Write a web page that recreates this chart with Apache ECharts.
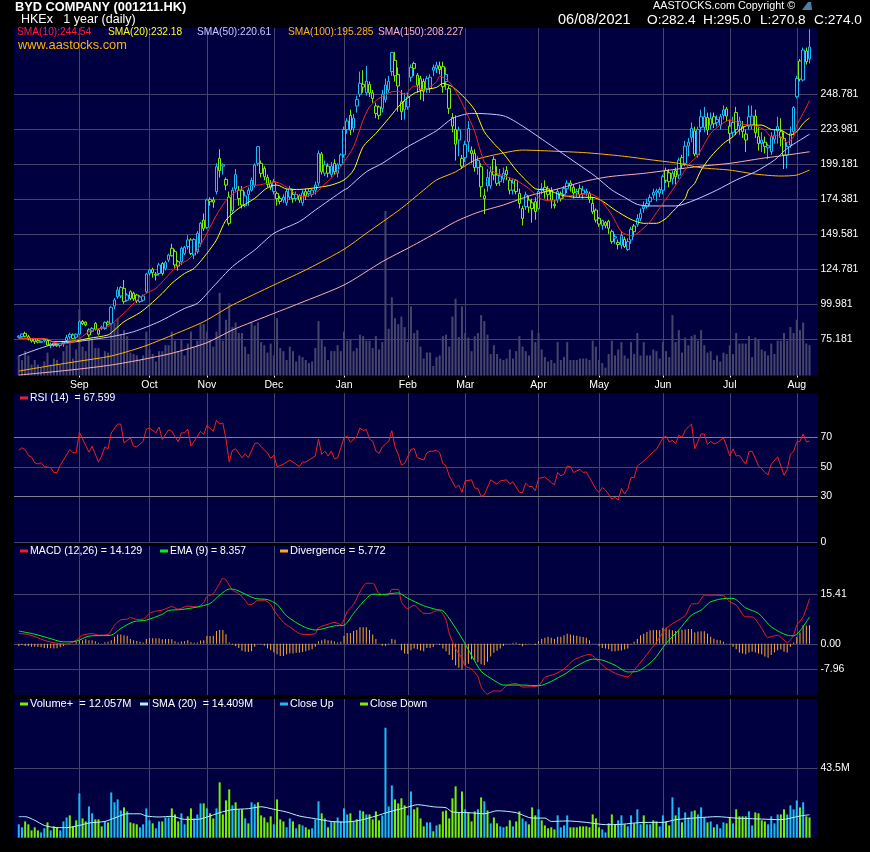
<!DOCTYPE html>
<html><head><meta charset="utf-8">
<style>html,body{margin:0;padding:0;background:#000}#c{width:870px;height:852px}</style>
<script src="https://cdn.jsdelivr.net/npm/echarts@6/dist/echarts.min.js"></script>
</head><body><div id="c"></div>
<script>
const monthLabels=['Sep','Oct','Nov','Dec','Jan','Feb','Mar','Apr','May','Jun','Jul','Aug'];
const monthStartDays=[19,41,59,80,102,122,140,163,182,202,223,244];
const priceTicks=[75.181,99.981,124.781,149.581,174.381,199.181,223.981,248.781];
const rsiTicks=[30,50,70];
const macdTicks=[-7.96,0,15.41];
const volumeTicks=[43.5];
// [open, close, low, high]
const candles=[
[76.7,77.6,76.2,78.2],[77.2,79,76.5,79.5],[79.5,77.5,76.8,80.8],[77.2,75.5,74.5,78.5],[75.5,74.1,73,76],[75.5,73.6,72,76],[74.5,73.3,72.5,75.5],[73.2,73.9,72.8,74.4],[74.2,74.8,73,75.3],[74.3,71.3,71,75],
[70.8,72,69,73],[72.6,71,70,72.8],[71.8,70.8,70,72.5],[71,72.2,69.5,72.5],[72.2,73.5,70,74],[74.5,76.6,73,78.5],[78.8,77,75.5,80],[78.4,76,75.5,79.5],[79,76.8,75.5,79.5],[79,87.8,78.5,88.8],
[88,86.4,85.5,89],[87.5,85.5,84.5,88],[78.4,82,77,83],[81,83,80,84],[86.6,82.4,81.5,87.5],[82,79,78,83],[84,83,82,85],[83,87.3,82,88],[87.5,86,85,88.5],[86.6,98,85.5,99],
[98.9,103.2,96.5,104.5],[105.5,110.2,104,112.5],[106,112,104.5,113],[111.4,102,100.5,117.3],[103,106.7,102,108],[109,104.3,103,110],[107.9,104,102.5,109],[106.7,102.7,101,107.5],[102,105.5,101,106.5],[103,106,102,107],
[109,121.6,108,122.5],[122,124.4,120.5,125.5],[124.9,122.5,119,126],[120.8,121.5,117,123],[122,128,120.5,129.5],[129,122,120.5,130],[125.6,129.6,124,131],[131.5,135,130,136],[139.8,134.5,134,143],[137.4,128,126,139],
[130.3,127.2,124,131.5],[130.3,139.8,128,141],[136.2,140.5,135,141.5],[145.7,141,139,149],[145.7,136.2,135,147],[135,146,132,147],[137.4,150.4,136,152],[143.3,157.5,141,158.5],[159.8,153.9,152,164.5],[154.6,174,153.5,175],
[174.5,172.8,170,176],[174,172.5,168.5,176],[180,197.6,178,200],[203.5,194.8,190,210],[199,198,192,200],[188.6,184.6,181,190],[176,157.5,156,180],[166.5,181,165,183],[192,182,180,196],[175,181,170,184],
[181,170.5,168,184],[170,177,169,180],[181,178,170,183],[181,188,180,190],[184.6,198.8,183,200],[211.8,200,198,212.3],[200,192.9,190,202],[196.4,190.5,188,198],[190,185,183,192],[186,183,181,188],
[180,187,178,189],[178.7,175,170,180],[175,173,171,177],[176,174,172,178],[172,180,170,182],[176,182,174,184],[178,175,172,182],[175,178,173,180],[177,174,172,178],[172,179,170,181],
[180,177,174,182],[180,178.5,176,182],[178,181,176,182],[181,184.7,178,187],[186,207,184,209],[206.6,194,192,208],[193,199,191,202],[198,193,190,200],[192,198,190,201],[200,194,192,203],
[193,199,190,200],[199,206,198,207],[206,224,204,226],[224,230,221,232],[234,223.6,220,238],[225,232,222,235],[245.3,240.6,236,248],[249,256.7,247,265],[256,254,250,266],[250,258.3,248,269],
[256,250,247,258],[250,246,243,252],[240.6,235.4,232,243],[240,234,231,241],[239,249,236,252],[245,255.5,243,260],[252,258,250,262],[265,278.6,262,279],[273,262,258,279],[263,254.8,236.6,268],
[243.6,236.6,230.7,252],[244,238,231,250],[240,247,238,250],[261,268,258,270],[270.8,267.3,262,272],[262.5,255.5,250,264],[260,252,245,262],[258,251,244,260],[253,260,250,262],[253,261,250,263],
[268,266,262,270],[267.3,269.6,264,272],[269,266.5,263,272],[268.5,254.3,250,272],[263,258,252,268],[253,239,235,255],[232.5,226.4,222,235.5],[224,213.6,202,234],[223.6,216.5,205,226],[203.5,198,196,206],
[204,213.4,201,216],[224.7,215.3,208,230],[209,207,200,212],[207,197,194,210],[197,202,192,205],[197.6,183.4,176,200],[175,177,164,182],[190,184,180,196],[184,194,182,198],[202.8,191.7,188,205],
[191.7,185.8,184,198],[187,191,184,196],[189,193,186,197],[195,192,188,198],[188,181,178,190],[181,186,178,189],[188,180,178,189],[178.7,171.6,168,182],[161,168,156,170],[169.3,177.6,167,180],
[174,169,165,177],[172,168,158,175],[172.8,165.8,160,176],[168,180,167,182],[182,181,178,186],[183,180,175,188],[182,178,174,184],[181,174,168,183],[171,170,168,174],[174,180,172,182],
[175,178.5,173,180],[178,182,175,184],[182,186,179,188],[186,184,180,188],[183,179,175,185],[180,179,176,182],[182,178,176,185],[181,178.5,175,184],[180,179,177,182],[178.7,174.5,172,180],
[171.6,165.7,164,176],[166.9,159.8,158,168],[161,157,155,162],[156,159.5,153,160],[156,158,154,159],[159,154,150,160],[151.6,144.5,143,153],[148,147,143,150],[142.5,144,139,146],[142.1,149,139.5,152],
[146.1,141,140,148],[139,144.5,138,147],[145.7,153.2,143,155],[155.6,151.6,148,157],[156.8,161,155,164],[161,164.6,159,168],[169.6,168,165,173],[169.3,171.6,168,175],[172.8,175.9,170,178],[179.5,177.5,175,182],
[180.5,179.5,173,182],[179,181.5,176,183],[181,190.5,178,192],[195,188,186,197],[193.3,187,183,196],[189,193,185,195],[194.8,190.5,185,197],[191.7,202.3,189,204],[204,198.8,196,206],[200,212.2,198,216],
[212.2,215,205,218],[218.4,224.8,215,229],[223,206.6,205,226],[206,224,204,226],[225.5,233,222,238],[225.5,233,222,240],[232.5,223.6,220,236],[227,231.8,224,236],[233,228,225,236],[229,231,226,234],
[227,233,224,235],[234,237.8,231,241],[238.5,233.5,230,240],[226.4,221.2,214,231],[222,229,219,233],[236,224,220,240],[230,226.5,220,233],[226,222.5,218,230],[220.7,216.5,208,224],[226.4,233,224,241],
[227,233.5,224,241],[233.5,221.7,218,238],[218.9,214.1,209,226],[216.5,214.1,208,222],[215,212,207,219],[211,212.5,203,214],[208.2,218.9,206,222],[217,220,214,224],[223,226,214,233],[222.4,218.4,212,232],
[217.7,205.9,196,222],[205.9,212,196.4,215],[213,221,211,226],[222.4,239.6,220,240.5],[247.2,260.2,246,262],[272.5,259.7,258,274],[259,280.3,258,282],[279.6,272,270,282],[282.4,274,270.8,295]];
const volumes=[8.4,6.5,10.2,8.4,4.6,6.5,4.6,3.3,5.9,9.6,4.6,7.1,6.5,4.6,10.2,12.7,14,7.1,10.9,27.8,12.1,10.2,19.6,15.3,11.5,11.5,7.1,10.2,9.6,28.4,22.2,24,17.1,19,16.5,9.6,9,8.4,6.5,8.4,18.4,10.9,9,5.9,10.2,10.2,12.7,12.7,18.4,14.6,10.2,15.3,8.4,13.4,18.4,12.1,14.6,21.5,21.5,18.4,15.3,12.1,18.4,34.7,14.6,23.4,30.3,20.3,22.2,17.8,17.8,12.1,9,22.2,20.9,22.2,14,12.7,9.6,13.4,8.4,24,11.5,10.2,6.5,12.1,10.2,5.9,8.4,7.7,6.5,5.2,5.9,11.5,22.8,15.3,12.1,6.5,10.2,10.2,12.7,10.2,18.4,14.6,15.3,10.2,11.5,17.1,16.5,14.6,14.6,11.5,16.5,10.9,14,69,19.6,32.8,24,21.5,24.7,20.3,14,29,17.8,19,12.1,7.1,9.6,9.6,4,
7.7,8.4,16.5,17.1,12.1,24.7,32.2,16.1,29,17.8,15.9,10.2,16.5,17.8,25.3,22.8,17.1,9,12.7,9,7.1,6.5,7.1,10.9,7.1,10.2,16.5,12.1,10.2,8.4,19,14,17.8,10.9,7.7,5.9,6.5,5.2,14,6.5,7.7,14,6.5,6.5,6.5,7.1,7.1,7.1,6.5,14.6,12.1,6.5,5.2,3.3,9,14.6,8.4,10.9,14,8.4,7.1,14,9,17.8,8.4,14,8.4,8.4,10.9,10.2,7.1,14,10.2,7.7,25.3,14,19,9.6,15.9,12.7,16.5,17.1,14.6,19,12.7,9.6,10.2,6.5,8.4,5.9,9.6,9,12.7,9,17.8,13.4,13.4,13.4,16.5,7.7,15.9,15.3,10.9,10.2,8.4,13.4,9,14.6,14.6,17.8,14.6,20.3,17.8,23.4,19,22.2,13.4,12.7];
const sma10=[[0,76],[9,75.5],[11,73.2],[14,72],[18,74.3],[22,80.7],[24,82.4],[28,84.3],[30,87.8],[34,96],[37,103],[40,107.9],[43,111.4],[46,118.5],[50,128],[53,131.5],[56,138.6],[59,150.4],[62,163.4],[64,170.5],[66,176.4],[69,181],[72,184],[75,184.6],[78,185.8],[81,186.5],[84,183],[87,178],[89,176.4],[90,176.4],[94,180.6],[95,183.4],[99,191.7],[102,201],[105,211.8],[108,230.7],[110,240],[113,246],[117,250.7],[119,251],[121,248.9],[124,254.8],[127,252],[131,257.8],[132,261.8],[135,257.8],[138,247.2],[141,233],[143,222.4],[146,201],[149,194],[153,190.5],[156,188],[160,182.2],[161,180],[164,174.5],[168,173.3],[171,176.4],[175,177.6],[179,178.3],[182,175.2],[186,163.4],[189,151.6],[192,148.7],[194,150.4],[198,158.7],[202,171.6],[205,181.1],[207,188],[210,198.8],[213,205.9],[217,221.2],[220,227.1],[223,230.7],[225,229.5],[227,227.8],[231,226.4],[234,223.6],[236,218.9],[238,220],[241,214.8],[243,218.9],[244,227.1],[246,235.4],[248,244.5]];
const sma20=[[0,76],[8,75.6],[11,73.6],[18,74.3],[22,76],[28,78.4],[30,81.9],[33,87.8],[38,94.2],[41,99.6],[45,107.9],[48,115],[52,122],[55,125.6],[59,136.2],[62,145.7],[65,159.8],[69,168.1],[74,175.2],[77,181.1],[79,183.9],[81,184.6],[84,181.8],[88,181.5],[94,183],[98,184.6],[102,188.2],[105,195.2],[108,211.8],[112,221.2],[116,231.8],[120,242.5],[124,249.6],[127,252],[131,253.8],[133,256.6],[136,254.3],[140,246],[143,237.8],[146,222.4],[149,214.1],[152,207],[156,195.2],[159,188.1],[162,182],[166,181],[170,177.6],[175,175.9],[180,175.9],[183,173.3],[187,166.9],[192,160.3],[196,157.5],[200,157.5],[203,161],[205,165.7],[209,175.2],[210,181.1],[212,185.8],[214,195.2],[217,204.7],[221,214.1],[224,218.9],[226,223.6],[229,227.1],[233,227.1],[236,224],[239,223.6],[242,220],[244,222.4],[246,228.3],[248,232.2]];
const sma50=[[0,63.5],[10,71.3],[18,73.6],[29,77.2],[36,80.7],[44,87.8],[52,97.2],[56,100.8],[61,112.6],[67,126.8],[74,138.6],[80,150.4],[88,158.7],[93,166.9],[102,181.1],[103,182.2],[109,194],[114,200],[122,211.8],[131,223.1],[136,231.8],[142,235.4],[152,233.7],[158,226.4],[166,214.1],[175,200],[181,190.5],[186,181.1],[190,175.9],[194,170.9],[198,169.8],[206,169.8],[212,174],[219,181.1],[225,188.2],[231,194],[237,202.3],[241,210.6],[248,220.6]];
const sma100=[[0,52.8],[8,55.9],[18,59.5],[29,63.5],[39,70.1],[47,77.2],[58,87.8],[67,99.6],[80,113.8],[91,125.6],[102,139.1],[109,150.4],[120,168.1],[127,181.1],[131,188.2],[137,194],[143,202.3],[149,205.9],[158,209.4],[167,208.7],[178,207.5],[189,205.2],[199,202.3],[207,200],[214,196.9],[223,195.2],[231,192.4],[239,191],[244,191.7],[248,195.3]];
const sma150=[[0,50],[8,51.7],[18,54],[29,57.1],[39,61.1],[48,65.4],[59,72.9],[67,81.9],[80,93.7],[88,100.8],[102,113.8],[114,130.3],[123,141],[131,150.9],[137,158.7],[144,165.3],[152,170.5],[161,177.6],[169,181.8],[177,187],[185,190.5],[196,192.9],[204,195.2],[214,198],[223,200],[233,203.5],[241,205.9],[248,208.2]];
const rsi=[[0,61.4],[1,63],[2,61.8],[3,57.8],[4,56.7],[5,52.9],[6,52],[7,52.9],[8,50.2],[10,49.5],[11,46.2],[12,46.2],[13,51.1],[16,61.8],[17,59.6],[18,59.6],[19,73.5],[20,69],[22,60],[23,64.1],[25,53.3],[26,57.4],[27,63.6],[28,62.3],[29,73.1],[31,79.1],[32,79.1],[33,66.3],[35,69.7],[36,64.1],[37,63.6],[39,67.4],[40,75.7],[41,76.4],[43,73.1],[44,77.1],[45,68.6],[47,75.3],[48,74.2],[50,67],[51,73.1],[52,73.1],[53,75.7],[54,64.1],[55,67.4],[57,74.2],[58,71.9],[59,78.2],[61,74.2],[62,81.6],[63,79.1],[64,79.8],[65,68.6],[66,53.3],[67,61.4],[68,62.3],[70,56.2],[71,58.9],[72,56.2],[74,65.9],[75,66.3],[77,61.4],[78,59.6],[79,55.8],[80,58],[81,50.2],[83,51.8],[85,54.7],[86,53.3],[88,50.2],[89,53.3],[90,53.3],[93,57.4],[94,69],[95,58.5],[96,60.7],[97,57.4],[98,60.7],[99,55.6],[100,56.2],[102,69.7],[103,70.8],[104,66.8],[106,70.8],[107,76.4],[108,74.8],[109,75.3],[110,69],[111,67.4],[112,60.7],[113,59.2],[114,63.6],[116,67.4],[117,74.6],[118,63.6],[119,58.5],[120,51.3],[121,52.4],[123,61.8],[124,62.5],[125,56.2],[127,54.7],[128,59.6],[129,60.7],[130,60.7],[131,61.4],[132,59.6],[133,52.4],[134,50.6],[135,43.9],[137,36],[138,37.6],[139,32.7],[140,40.5],[142,41.2],[143,35.6],[144,35.4],[145,30],[146,30.9],[148,41.2],[150,38.3],[151,40.5],[153,41.2],[154,38.3],[155,39.9],[157,32.7],[158,32.7],[159,39],[160,36.7],[161,36.7],[162,33.8],[163,42.1],[165,43.2],[167,39.4],[168,37.9],[169,46.2],[170,43.9],[171,45],[172,50.6],[173,50.2],[174,46.2],[176,48.4],[177,46.2],[178,46.6],[179,42.8],[181,34.9],[182,32.7],[183,36],[184,34.3],[186,28.2],[187,29.3],[188,27.5],[189,35.4],[190,31.6],[191,34.9],[192,42.8],[193,42.8],[194,50.6],[196,54],[199,60.3],[200,61.8],[202,69.7],[203,70.8],[204,67],[205,67.9],[206,65.9],[207,71.5],[208,70.1],[209,74.8],[210,77.1],[211,79.1],[212,62.3],[214,72.4],[215,72.4],[216,65.2],[217,67.4],[218,65.7],[219,66.3],[221,69.7],[222,64.1],[223,57.4],[224,62.3],[225,57.4],[226,57.8],[228,51.8],[229,60.3],[230,60.7],[232,50.6],[233,48.8],[234,46.2],[235,44.6],[236,51.8],[238,56.9],[240,44.4],[241,48.4],[242,58.5],[243,60.7],[244,66.8],[245,67.4],[246,72.4],[247,67],[248,67.6]];
const macd=[[0,3.2],[3,2.9],[8,1.1],[11,.3],[15,-.1],[18,1.1],[20,2.7],[23,3.2],[25,2.7],[28,2.9],[30,5.8],[32,7.5],[34,7.7],[35,8.2],[37,7.6],[39,7.7],[41,9.5],[43,10.2],[45,10.5],[48,11.6],[50,10.8],[53,11.8],[56,11.5],[58,12.9],[59,14.7],[61,15.7],[63,18.9],[64,20.4],[65,19.9],[67,16.8],[69,15.7],[71,13.6],[72,12.3],[73,12.3],[75,13.6],[77,13.6],[79,12.3],[80,10.5],[83,6.7],[85,5.3],[88,3.2],[90,2.9],[93,3.2],[94,5],[97,6.1],[99,6.7],[101,6],[103,10],[105,12.3],[107,16.2],[109,18.9],[111,18.9],[113,15.7],[116,15.2],[117,17],[119,17],[120,13.1],[122,11],[124,12],[127,9.5],[129,9.5],[130,10],[131,10.3],[132,10.3],[134,7.4],[135,3.2],[137,-1.5],[139,-4.6],[140,-6.9],[142,-7.9],[144,-10.3],[145,-13.4],[147,-15.7],[149,-14.7],[151,-14.8],[153,-13.1],[156,-12.4],[158,-13.5],[163,-13.1],[165,-10.5],[168,-9.5],[171,-7.9],[174,-5.1],[177,-3.8],[179,-3.3],[181,-4.6],[184,-7.5],[188,-9.6],[191,-10.3],[193,-8.2],[196,-4.6],[200,.6],[203,4.8],[206,6.9],[209,8.8],[211,12.4],[213,12.6],[215,15.2],[221,15],[223,13.1],[225,12.1],[228,8.4],[230,8.4],[233,4.8],[235,2],[238,2.7],[241,.4],[243,2.7],[244,5.8],[246,8.4],[248,14.1]];
const macdEma=[[0,4],[5,3],[9,1.9],[14,.6],[18,.8],[22,2.4],[29,2.7],[32,4.8],[36,6.9],[40,7.4],[45,9.2],[47,10.4],[51,10.7],[56,11.5],[60,12.6],[63,15.2],[66,17.1],[68,16.9],[74,14.2],[78,13.8],[81,12.3],[84,8.7],[89,5.5],[93,4.3],[99,5.6],[102,5.8],[105,9.5],[108,13.1],[111,15.5],[114,15.4],[119,15.9],[122,14.2],[127,11.9],[131,10.7],[133,10.3],[135,7.9],[139,1.7],[142,-3.6],[145,-8.6],[149,-11.4],[152,-12.9],[158,-12.9],[163,-13.1],[171,-9.6],[175,-6.9],[180,-4.8],[183,-5.1],[187,-6.7],[191,-8.8],[194,-8.6],[199,-5.1],[203,.1],[207,4.3],[211,9],[214,10.5],[217,13.1],[222,14.2],[224,14.2],[228,11.2],[232,9.5],[236,5.3],[242,2.5],[243,2.5],[245,4],[248,8.4]];
const divergence=[-.7,-.4,-.7,-.7,-.9,-.9,-1,-1.1,-1.3,-1.4,-1.4,-1.5,-1.4,-1.1,-.7,-.1,.1,.1,.6,1.1,1.1,1.4,1.1,1.1,.8,.3,.1,.5,.6,1.1,2.2,2.9,2.9,2.7,2.5,1.5,1.1,.9,.6,.4,1.5,1.7,1.7,1.7,1.7,1.4,1.5,1.5,1.4,.8,.4,.7,.8,1.1,.5,.3,.4,1,1.1,2.4,2.4,2.5,4,4.3,4.3,3,.4,-.3,-.7,-1.3,-2.2,-2.5,-2.6,-2.3,-.9,-.1,-.2,-.6,-1.5,-2,-2.7,-3.3,-3.8,-3.8,-3.3,-3,-3,-2.8,-2.8,-2.6,-2.3,-2,-1.7,-.9,.8,1.1,1.4,1.1,1,.7,.4,.6,2.5,3.4,3.4,4,4.3,5.2,5.2,5.2,4.3,2.9,1.5,.1,-.6,-.6,-.2,1.5,1.3,0,-2,-3,-3.2,-2,-1.5,-1.7,-2.1,-2.3,-1.3,-1.3,-1,
-.1,-.4,-1.5,-2.3,-3.5,-5.1,-6.7,-7.5,-8,-6.7,-6.2,-4.8,-5.1,-5.8,-6.4,-6.7,-5.6,-4,-2.8,-2.2,-1.5,-.7,-.1,.1,.3,.4,-.3,-.8,-.2,-.1,0,-.4,.8,1.5,1.9,2.2,1.9,1.5,2.2,2.2,2.7,3.1,2.9,2.7,2.5,2.3,2.1,1.9,1.1,.1,-.1,-.7,-1.3,-1.5,-1.7,-2.3,-2.3,-2.2,-2.1,-1.8,-1.5,-.2,.6,1.5,2.7,3.1,3.7,4.2,4.3,4.3,4.2,5,5,4.5,4.2,4,4.2,4.4,4.5,4.6,4.6,3.5,3.8,3.9,3.9,3.2,2.2,1.6,1.3,1.1,.6,.1,-.2,-.9,-1.7,-2.7,-3,-3.3,-2.7,-2.5,-2.7,-3,-3.3,-4,-4.4,-3.5,-2.7,-2,-1.8,-2.5,-2.7,-.9,.4,2.1,3.5,5.8,5.7,5.8];
const volumeSma=[[0,13.2],[2,13.2],[5,10.9],[8,7.7],[12,6.3],[15,6.3],[19,7.7],[22,9.2],[27,10.2],[30,12.3],[34,15],[38,15],[40,13.6],[44,13],[48,13.4],[52,11.5],[56,11.5],[60,13.6],[63,15.7],[67,17.6],[72,18.2],[76,19.4],[80,17.8],[84,16.1],[88,13.6],[93,11.9],[98,10.2],[102,9.8],[107,10.9],[112,13.6],[116,16.1],[122,19.2],[125,20.7],[130,19.4],[131,19.2],[134,18.8],[136,16.1],[141,15.7],[146,15],[150,16.9],[156,15.7],[161,12.3],[165,12.3],[167,10.2],[172,10.5],[178,9.6],[184,8.2],[189,8.4],[196,9.6],[202,9.6],[206,11.3],[213,12.5],[219,13.2],[225,12.3],[233,11.7],[239,11.3],[245,13.6],[248,14.4]];

const BG='#000040',GRID='#45456b',BLUE='#1bbcf5',GREEN='#78f000',LINE70='#80808c';
const FONT='"Liberation Sans",Arial,sans-serif';
const CATEGORY_COUNT=252;
const categories=Array.from({length:CATEGORY_COUNT},(_,k)=>{const m=monthStartDays.indexOf(k-1);return m>=0?monthLabels[m]:'#'+k;});
const isMonth=(idx)=>monthStartDays.includes(idx-1);
const shift=a=>a.map(([i,v])=>[i+1,v]);
const lead=a=>[null].concat(a);

const candleData=[{value:[NaN,NaN,NaN,NaN]}].concat(candles.map((c,i)=>{
  const up=i===0||c[1]>=candles[i-1][1];
  const col=up?BLUE:GREEN;
  return {value:c,itemStyle:{color:BG,color0:col,borderColor:col,borderColor0:col,borderWidth:1}};
}));
const volumeColored=lead(volumes.map((v,i)=>({value:v,itemStyle:{color:candles[i][1]<candles[i][0]?GREEN:BLUE}})));

const grids=[
 {left:14,top:28,width:803.5,height:347.5},
 {left:14,top:393.3,width:803.5,height:148.7},
 {left:14,top:546,width:803.5,height:149},
 {left:14,top:699,width:803.5,height:138.7}
].map(g=>Object.assign(g,{show:true,backgroundColor:BG,borderWidth:0}));

const xAxes=grids.map((g,k)=>({
  type:'category',gridIndex:k,data:categories,boundaryGap:true,
  axisLine:{show:false},
  axisTick:{show:k===0,alignWithLabel:true,interval:isMonth,length:2,lineStyle:{color:'#ffffff'}},
  axisLabel:{show:k===0,interval:isMonth,color:'#fff',fontFamily:FONT,fontSize:10.5,margin:4},
  splitLine:{show:true,alignWithLabel:true,interval:isMonth,lineStyle:{color:GRID,width:1}}
}));
const yLabel=f=>({color:'#fff',fontFamily:FONT,fontSize:10.5,margin:3,align:'left',formatter:f});
const yBase=(k,min,max,ticks,f)=>({type:'value',gridIndex:k,min,max,position:'right',
  axisLine:{show:false},
  axisTick:{show:false,customValues:ticks},
  axisLabel:Object.assign(yLabel(f),{customValues:ticks}),
  splitLine:{show:true,lineStyle:{color:GRID,width:1}}});
const RSI_FLOOR=-1;
const yAxes=[
 yBase(0,49.67,295.9,priceTicks,v=>v.toFixed(3)),
 {type:'value',gridIndex:0,min:0,max:145.7,position:'left',axisLine:{show:false},axisTick:{show:false},axisLabel:{show:false},splitLine:{show:false}},
 yBase(1,RSI_FLOOR,100,[RSI_FLOOR].concat(rsiTicks),v=>v===RSI_FLOOR?'0':String(v)),
 yBase(2,-16,30.55,macdTicks,v=>v.toFixed(2)),
 yBase(3,0,87,volumeTicks,v=>v+'M')
];
const line=(name,data,color,x,y,extra)=>Object.assign({name,type:'line',data:shift(data),xAxisIndex:x,yAxisIndex:y,showSymbol:false,symbol:'none',smooth:0.25,
  lineStyle:{color,width:1},itemStyle:{color},silent:true,animation:false,z:5},extra||{});

const series=[
 {name:'Volume overlay',type:'bar',data:lead(volumes),xAxisIndex:0,yAxisIndex:1,barWidth:2,itemStyle:{color:GRID},silent:true,z:1},
 {name:'Price',type:'candlestick',data:candleData,xAxisIndex:0,yAxisIndex:0,barWidth:3,silent:true,z:3},
 line('SMA(150)',sma150,'#ffb0b0',0,0),
 line('SMA(100)',sma100,'#ffb400',0,0),
 line('SMA(50)',sma50,'#c8c8ff',0,0),
 line('SMA(20)',sma20,'#ffff00',0,0),
 line('SMA(10)',sma10,'#ff2020',0,0),
 line('RSI',rsi,'#f0201e',1,2,{smooth:false,markLine:{silent:true,symbol:'none',label:{show:false},animation:false,lineStyle:{color:LINE70,width:1,type:'solid'},data:[{yAxis:70},{yAxis:30}]},z:5}),
 {name:'Divergence',type:'bar',data:lead(divergence),xAxisIndex:2,yAxisIndex:3,barWidth:1,itemStyle:{color:'#ffa826'},silent:true,z:3},
 line('MACD',macd,'#f01e1e',2,3),
 line('EMA',macdEma,'#00f020',2,3),
 {name:'Volume+',type:'bar',data:volumeColored,xAxisIndex:3,yAxisIndex:4,barWidth:2,silent:true,z:3},
 line('Volume SMA',volumeSma,'#b4f4ff',3,4)
];

const txt=(x,y,text,fill,size,extra)=>({type:'text',x,y,silent:true,z:50,style:Object.assign({text,fill:fill||'#fff',font:(size||11)+'px '+FONT,textVerticalAlign:'middle',verticalAlign:'middle'},extra||{})});
const sw=(x,y,fill)=>({type:'rect',silent:true,z:50,shape:{x,y,width:8,height:3},style:{fill}});
const graphics=[
 txt(15,7,'BYD COMPANY (001211.HK)','#fff',12.8,{font:'bold 12.8px '+FONT}),
 txt(21,20,'HKEx   1 year (daily)','#fff',12.5),
 txt(653,6,'AASTOCKS.com Copyright ©','#fff',10.8),
 txt(558,20,'06/08/2021','#fff',14.5),
 txt(647,20,'O:282.4','#fff',13.7),
 txt(703,20,'H:295.0','#fff',13.7),
 txt(760,20,'L:270.8','#fff',13.7),
 txt(814,20,'C:274.0','#fff',13.7),
 {type:'polygon',silent:true,z:50,shape:{points:[[802,10],[808,2],[811,2],[812,10]]},style:{fill:'#4a7fa8'}},
 txt(17,32,'SMA(10):244.54','#ff2020',10.2),
 txt(108,32,'SMA(20):232.18','#ffff00',10.2),
 txt(197,32,'SMA(50):220.61','#c8c8ff',10.2),
 txt(288,32,'SMA(100):195.285','#ffb400',10.2),
 txt(378,32,'SMA(150):208.227','#ffb0b0',10.2),
 txt(18,45,'www.aastocks.com','#ffb400',12.8),
 sw(20,396.5,'#f0201e'),txt(30,398,'RSI (14)  = 67.599','#fff',10.4),
 sw(20,549.5,'#f01e1e'),txt(30,551,'MACD (12,26) = 14.129','#fff',10.6),
 sw(160,549.5,'#00f020'),txt(170,551,'EMA (9) = 8.357','#fff',10.4),
 sw(280,549.5,'#ffa826'),txt(290,551,'Divergence = 5.772','#fff',11),
 sw(20,702.5,GREEN),txt(30,704,'Volume+  = 12.057M','#fff',11),
 sw(140,702.5,'#b4f4ff'),txt(152,704,'SMA (20)  = 14.409M','#fff',10.6),
 sw(280,702.5,BLUE),txt(290,704,'Close Up','#fff',10.6),
 sw(360,702.5,GREEN),txt(370,704,'Close Down','#fff',10.6)
];

const chart=echarts.init(document.getElementById('c'),null,{renderer:'canvas',width:870,height:852});
chart.setOption({backgroundColor:'#000',animation:false,tooltip:{show:false},legend:{show:false},
  grid:grids,xAxis:xAxes,yAxis:yAxes,series,graphic:graphics});
</script></body></html>
